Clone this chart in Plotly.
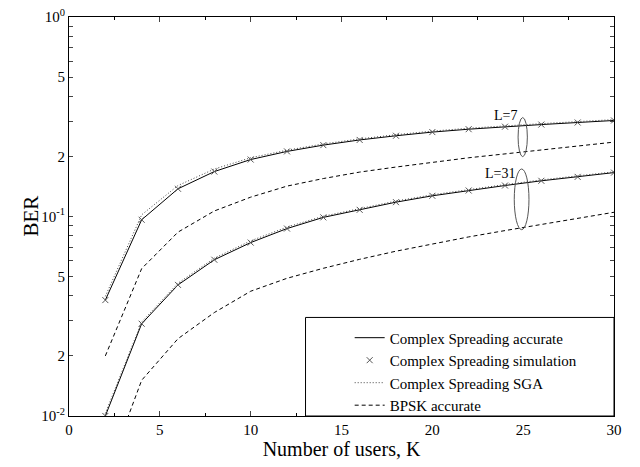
import numpy as np
import plotly.graph_objects as go

K = [2, 4, 6, 8, 10, 12, 14, 16, 18, 20, 22, 24, 26, 28, 30]

acc_L7 = [0.0381, 0.0963, 0.1377, 0.168, 0.193, 0.212, 0.228, 0.242, 0.254, 0.265, 0.274, 0.282, 0.289, 0.296, 0.303]
sga_L7 = [0.0398, 0.102, 0.143, 0.173, 0.197, 0.215, 0.231, 0.245, 0.257, 0.268, 0.277, 0.285, 0.292, 0.299, 0.306]
sim_L7 = [0.0381, 0.0963, 0.1377, 0.168, 0.193, 0.212, 0.228, 0.242, 0.254, 0.265, 0.274, 0.282, 0.289, 0.296, 0.303]
bpsk_L7 = [0.020, 0.0548, 0.0835, 0.1066, 0.125, 0.142, 0.155, 0.167, 0.177, 0.187, 0.197, 0.206, 0.215, 0.225, 0.236]

acc_L31 = [0.0100, 0.029, 0.0454, 0.0607, 0.074, 0.087, 0.099, 0.108, 0.118, 0.127, 0.135, 0.143, 0.151, 0.158, 0.166]
sga_L31 = [0.0103, 0.0296, 0.0463, 0.0618, 0.0755, 0.0885, 0.1003, 0.1095, 0.1195, 0.1285, 0.1365, 0.1445, 0.1525, 0.1595, 0.1675]
sim_L31 = [0.0100, 0.029, 0.0454, 0.0607, 0.074, 0.087, 0.099, 0.108, 0.118, 0.127, 0.135, 0.143, 0.151, 0.158, 0.166]
bpsk_L31 = [0.0049, 0.0151, 0.0244, 0.033, 0.0422, 0.049, 0.055, 0.061, 0.067, 0.073, 0.079, 0.085, 0.091, 0.098, 0.105]

x_ticks = [0, 5, 10, 15, 20, 25, 30]
y_tick_labels = {0.01: "10<sup>-2</sup>", 0.02: "2", 0.05: "5", 0.1: "10<sup>-1</sup>",
                 0.2: "2", 0.5: "5", 1.0: "10<sup>0</sup>"}

FONT = "Liberation Serif"

fig = go.Figure()

solid = dict(color="black", width=1)
dotted = dict(color="#444444", width=1, dash="1px,2px")
dashed = dict(color="black", width=1, dash="4px,3px")
marker = dict(symbol="x-thin", size=6, line=dict(color="#555555", width=1), color="#555555")

for i, (a, s, g, b) in enumerate([(acc_L7, sim_L7, sga_L7, bpsk_L7), (acc_L31, sim_L31, sga_L31, bpsk_L31)]):
    show = i == 0
    fig.add_trace(go.Scatter(x=K, y=a, mode="lines", line=solid, name="Complex Spreading accurate",
                             legendgroup="acc", showlegend=show, legendrank=1))
    fig.add_trace(go.Scatter(x=K, y=s, mode="markers", marker=marker, name="Complex Spreading simulation",
                             legendgroup="sim", showlegend=show, legendrank=2))
    fig.add_trace(go.Scatter(x=K, y=g, mode="lines", line=dotted, name="Complex Spreading SGA",
                             legendgroup="sga", showlegend=show, legendrank=3))
    fig.add_trace(go.Scatter(x=K, y=b, mode="lines", line=dashed, name="BPSK accurate",
                             legendgroup="bpsk", showlegend=show, legendrank=4))

yvals = []
ytext = []
for dec in [0.01, 0.1]:
    for m in range(1, 10):
        v = round(dec * m, 4)
        yvals.append(v)
        ytext.append(y_tick_labels.get(v, ""))
yvals.append(1.0)
ytext.append(y_tick_labels[1.0])

fig.update_xaxes(range=[0, 30], tickvals=x_ticks, ticks="inside", ticklen=5, mirror="ticks",
                 showline=True, linecolor="black", linewidth=1, showgrid=False, zeroline=False,
                 tickfont=dict(family=FONT, size=15, color="black"),
                 minor=dict(dtick=2.5, ticks="inside", ticklen=3, tickcolor="black"),
                 title=dict(text="Number of users, K", font=dict(family=FONT, size=20, color="black"), standoff=2))
fig.update_yaxes(type="log", range=[-2.0002, 0.0002], tickvals=yvals, ticktext=ytext, ticks="inside", ticklen=4,
                 mirror="ticks", showline=True, linecolor="black", linewidth=1, showgrid=False,
                 ticklabeloverflow="allow",
                 tickfont=dict(family=FONT, size=15, color="black"))

# y-axis title
fig.add_annotation(xref="paper", yref="paper", x=(30 - 69) / 546, y=0.5, text="BER", textangle=-90,
                   showarrow=False, xanchor="center", yanchor="middle",
                   font=dict(family=FONT, size=21, color="black"))

# legend box
fig.add_shape(type="rect", xref="paper", yref="paper", x0=0.434, x1=1, y0=0, y1=0.247,
              line=dict(color="black", width=1), fillcolor="white", layer="above")

# ellipses around L groups
fig.add_shape(type="circle", xref="paper", yref="paper", x0=0.824, x1=0.841, y0=0.650, y1=0.748,
              line=dict(color="#555555", width=1))
fig.add_shape(type="circle", xref="paper", yref="paper", x0=0.817, x1=0.844, y0=0.467, y1=0.619,
              line=dict(color="#555555", width=1))
fig.add_annotation(xref="paper", yref="paper", x=0.826, y=0.752, text="L=7", showarrow=False,
                   xanchor="right", yanchor="middle", font=dict(family=FONT, size=14, color="black"))
fig.add_annotation(xref="paper", yref="paper", x=0.822, y=0.608, text="L=31", showarrow=False,
                   xanchor="right", yanchor="middle", font=dict(family=FONT, size=14, color="black"))

fig.update_layout(
    width=640, height=467,
    margin=dict(l=69, r=26, t=7, b=51),
    plot_bgcolor="white", paper_bgcolor="white",
    font=dict(family=FONT, color="black"),
    legend=dict(x=0.515, y=0.237, xanchor="left", yanchor="top", bgcolor="rgba(0,0,0,0)",
                borderwidth=0, font=dict(family=FONT, size=15, color="black"),
                tracegroupgap=0, itemwidth=30),
    showlegend=True,
)

fig.write_html("out.html", config={"displayModeBar": False},
               post_script="document.body.style.margin='0';")
